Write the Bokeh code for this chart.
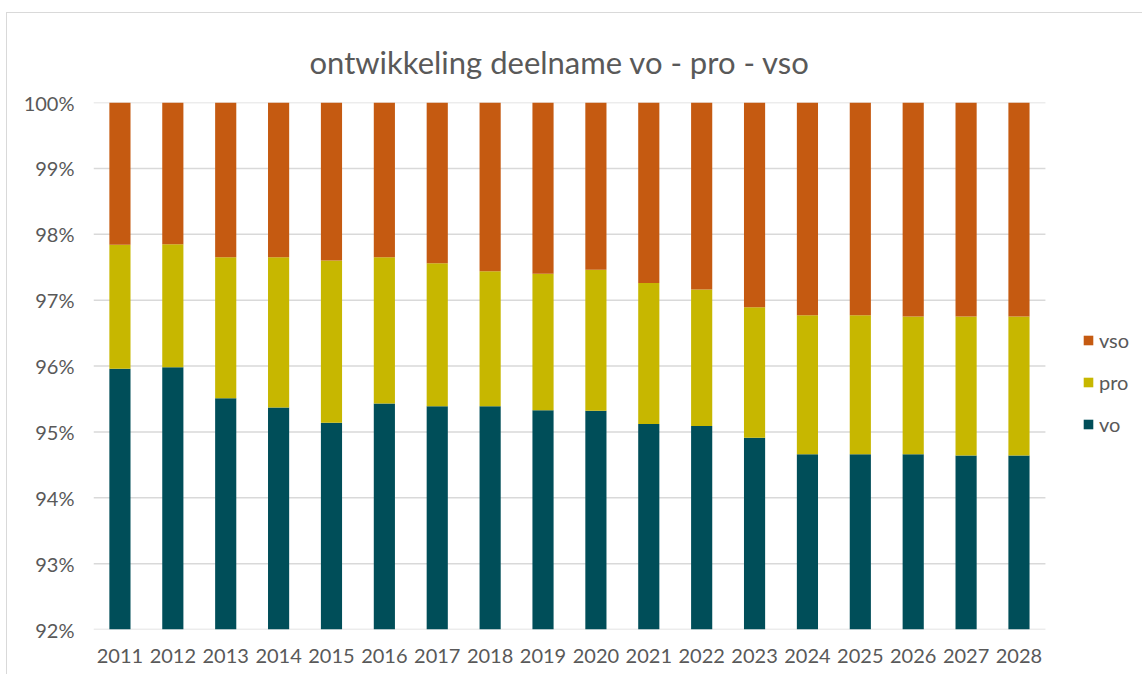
from bokeh.plotting import figure
from bokeh.models import ColumnDataSource, Legend, LegendItem, PrintfTickFormatter, FixedTicker, Range1d
from bokeh.embed import file_html
from bokeh.resources import INLINE

years = ["2011", "2012", "2013", "2014", "2015", "2016", "2017", "2018", "2019",
         "2020", "2021", "2022", "2023", "2024", "2025", "2026", "2027", "2028"]
vo = [95.96, 95.98, 95.51, 95.37, 95.14, 95.43, 95.39, 95.39, 95.33,
      95.32, 95.12, 95.09, 94.91, 94.66, 94.66, 94.66, 94.64, 94.64]
pro = [1.88, 1.87, 2.14, 2.28, 2.46, 2.22, 2.17, 2.05, 2.07,
       2.14, 2.14, 2.07, 1.98, 2.11, 2.11, 2.09, 2.11, 2.11]
vso = [2.16, 2.15, 2.35, 2.35, 2.40, 2.35, 2.44, 2.56, 2.60,
       2.54, 2.74, 2.84, 3.11, 3.23, 3.23, 3.25, 3.25, 3.25]
series = ["vo", "pro", "vso"]
colors = ["#004E59", "#C7B700", "#C55A11"]
y_ticks = [92, 93, 94, 95, 96, 97, 98, 99, 100]

FONT = "Lato"
GREY = "#595959"

n = len(years)
idx = list(range(n))

# layout (pixels): plot area for the bars is 951px wide; the frame extends
# further right to host the legend
BAR_AREA_PX = 951
BORDER_L, BORDER_R = 86, 10
FIG_W, FIG_H = 1136, 662
frame_w = FIG_W - 1 - BORDER_L - BORDER_R
x_end = -0.5 + n * frame_w / BAR_AREA_PX

source = ColumnDataSource(dict(x=idx, years=years, vo=vo, pro=pro, vso=vso))

p = figure(x_range=Range1d(-0.5, x_end), y_range=Range1d(92, 100), width=FIG_W, height=FIG_H,
           output_backend="svg", toolbar_location=None,
           title="ontwikkeling deelname vo - pro - vso",
           min_border_left=BORDER_L, min_border_right=BORDER_R, min_border_top=89, min_border_bottom=46)

# gridlines limited to the bar area
grid_src = ColumnDataSource(dict(x0=[-0.5] * len(y_ticks), x1=[n - 0.5] * len(y_ticks),
                                 y=y_ticks))
p.segment(x0="x0", x1="x1", y0="y", y1="y", source=grid_src,
          line_color="#D9D9D9", line_width=1.5)

renderers = p.vbar_stack(series, x="x", width=0.4, color=colors, line_color=None, source=source)

p.title.align = "left"
p.title.offset = 216
p.title.text_font = FONT
p.title.text_font_size = "31px"
p.title.text_font_style = "normal"
p.title.text_color = GREY
p.title.standoff = 44

p.outline_line_color = None
p.background_fill_color = "white"
p.border_fill_color = "white"
p.styles = {"border-left": "1px solid #d9d9d9", "border-top": "1px solid #d9d9d9",
            "margin-top": "12px", "margin-left": "6px"}

p.xgrid.grid_line_color = None
p.ygrid.grid_line_color = None

p.yaxis.ticker = FixedTicker(ticks=y_ticks)
p.yaxis.formatter = PrintfTickFormatter(format="%d%%")
p.yaxis.axis_line_color = None
p.yaxis.major_tick_line_color = None
p.yaxis.minor_tick_line_color = None
p.yaxis.major_label_standoff = 13
p.yaxis.major_label_text_font = FONT
p.yaxis.major_label_text_font_size = "20px"
p.yaxis.major_label_text_color = GREY

p.xaxis.ticker = FixedTicker(ticks=idx)
p.xaxis.major_label_overrides = {i: y for i, y in zip(idx, years)}
p.xaxis.axis_line_color = None
p.xaxis.major_tick_line_color = None
p.xaxis.minor_tick_line_color = None
p.xaxis.major_label_standoff = 13
p.xaxis.major_label_text_font = FONT
p.xaxis.major_label_text_font_size = "20px"
p.xaxis.major_label_text_color = GREY

items = [LegendItem(label=s, renderers=[r]) for s, r in zip(series, renderers)][::-1]
legend = Legend(items=items, location=(989, 193), orientation="vertical",
                glyph_width=12, glyph_height=12, label_height=24, spacing=18,
                padding=0, margin=0, border_line_color=None, background_fill_alpha=0,
                label_text_font=FONT, label_text_font_size="20px", label_text_color=GREY,
                label_standoff=5)
p.add_layout(legend)

open("out.html", "w").write(file_html(p, INLINE))
